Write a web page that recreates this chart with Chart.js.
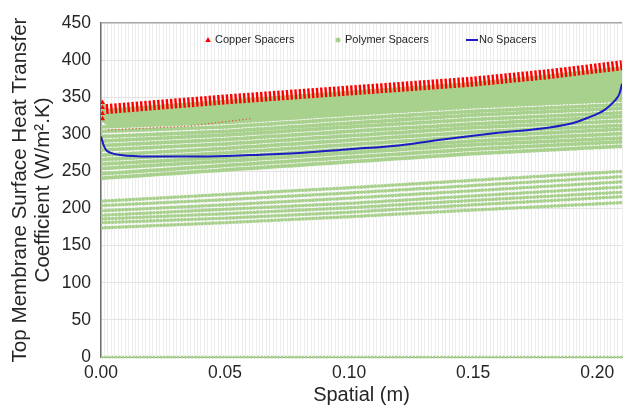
<!DOCTYPE html>
<html>
<head>
<meta charset="utf-8">
<script src="https://cdn.jsdelivr.net/npm/chart.js@4/dist/chart.umd.min.js"></script>
<style>html,body{margin:0;padding:0;background:#fff}canvas{display:block}</style>
</head>
<body>
<canvas id="c" width="626" height="415"></canvas>
<script>
// ---------------- data ----------------
const seriesLabels = ['Copper Spacers', 'Polymer Spacers', 'No Spacers'];
const xTickLabels = ['0.00', '0.05', '0.10', '0.15', '0.20'];
const yTitleLines = ['Top Membrane Surface Heat Transfer', 'Coefficient (W/m\u00B2.K)'];
const xTitle = 'Spatial (m)';

// Copper spacers: centre of the red triangle band
const copperX = [0.002, 0.05, 0.10, 0.15, 0.18, 0.21];
const copperY = [334, 347, 359, 371, 381, 393];
// triangles stacked at the inlet (x = 0)
const copperInletY = [343, 336, 328, 321];
// faint red dotted trace near the inlet
const copperFaintX = [0.003, 0.035, 0.06];
const copperFaintY = [306, 311, 321];

// No spacers (blue line)
const noSpacerX = [0, 0.001, 0.002, 0.004, 0.008, 0.02, 0.04, 0.06, 0.08, 0.10, 0.12, 0.14, 0.16, 0.18, 0.19, 0.196, 0.203, 0.207, 0.209, 0.21];
const noSpacerY = [297, 286, 279, 275, 272, 270, 270, 272, 275, 280, 285, 294, 302, 309, 315, 322, 333, 345, 355, 368];

// Polymer spacers: dense band just under the copper band
const polymerBandX = [0, 0.003, 0.05, 0.10, 0.15, 0.18, 0.21];
const polymerBandTop = [345, 334, 346, 358, 370, 380, 391];
const polymerBandBottom = [318, 312, 317, 327, 337, 342, 346];

// Polymer spacers: individual dotted rows (values at polymerRowX)
const polymerRowX = [0.0005, 0.05, 0.10, 0.15, 0.21];
const polymerUpperRows = [
  [310, 316, 327, 337, 346],
  [304, 310, 321, 331, 340],
  [297, 304, 315, 326, 335],
  [291, 299, 310, 320, 329],
  [285, 293, 304, 314, 324],
  [279, 287, 298, 309, 318],
  [272, 281, 292, 303, 312],
  [266, 275, 286, 297, 307],
  [260, 269, 280, 291, 301],
  [254, 264, 275, 286, 295],
  [247, 258, 269, 280, 290],
  [241, 252, 263, 274, 284]
];
const polymerLowerRows = [
  [210, 219, 228, 238, 250],
  [204, 212, 221, 231, 243],
  [197, 205, 214, 224, 236],
  [191, 199, 207, 217, 229],
  [186, 193, 201, 211, 222],
  [181, 187, 195, 205, 216],
  [174, 181, 189, 198, 208]
];
const polymerZeroRow = [0, 0, 0, 0, 0];

// ---------------- styling ----------------
const RED = '#ff0000';
const GREEN = '#a9d18e';
const BLUE = '#1c1cc4';
const FONT = '"Liberation Sans", Arial, Helvetica, sans-serif';
const TEXT = '#262626';

const pts = (xs, ys) => xs.map((x, i) => ({ x: x, y: ys[i] }));

const dottedRow = (row, size) => ({
  data: pts(polymerRowX, row),
  showLine: true,
  borderColor: GREEN,
  borderWidth: size,
  borderDash: [0.01, 3.45],
  borderCapStyle: 'round',
  pointRadius: 0,
  fill: false
});

const datasets = [];
datasets.push({
  label: seriesLabels[0],
  data: pts(copperX, copperY),
  showLine: true,
  borderColor: RED,
  borderWidth: 10,
  borderDash: [2.4, 1.9],
  borderCapStyle: 'butt',
  pointRadius: 0
});
datasets.push({
  label: seriesLabels[0] + ' inlet',
  data: copperInletY.map(v => ({ x: 0.0006, y: v })),
  showLine: false,
  pointStyle: 'triangle',
  pointRadius: 3,
  backgroundColor: RED,
  borderColor: RED,
  borderWidth: 0
});
datasets.push({
  label: seriesLabels[0] + ' trace',
  data: pts(copperFaintX, copperFaintY),
  showLine: true,
  borderColor: 'rgba(230,60,40,0.8)',
  borderWidth: 1.4,
  borderDash: [0.01, 3.45],
  borderCapStyle: 'round',
  pointRadius: 0
});
datasets.push({
  label: seriesLabels[2],
  data: pts(noSpacerX, noSpacerY),
  showLine: true,
  borderColor: BLUE,
  borderWidth: 2,
  cubicInterpolationMode: 'monotone',
  pointRadius: 0
});
polymerUpperRows.forEach(r => datasets.push(dottedRow(r, 4.2)));
polymerLowerRows.forEach(r => datasets.push(dottedRow(r, 3.7)));
const zeroRow = dottedRow(polymerZeroRow, 3);
zeroRow.clip = false;
datasets.push(zeroRow);
const bandTopIndex = datasets.length;
datasets.push({
  label: seriesLabels[1] + ' top',
  data: pts(polymerBandX, polymerBandTop),
  showLine: true,
  borderColor: GREEN,
  borderWidth: 1,
  pointRadius: 0
});
datasets.push({
  label: seriesLabels[1],
  data: pts(polymerBandX, polymerBandBottom),
  showLine: true,
  borderColor: GREEN,
  borderWidth: 1,
  pointRadius: 0,
  backgroundColor: GREEN,
  fill: bandTopIndex
});

// legend drawn inside the plot area
const legendItems = [
  { label: seriesLabels[0], marker: 'triangle', color: RED, mx: 208, tx: 215 },
  { label: seriesLabels[1], marker: 'circle', color: GREEN, mx: 338, tx: 345 },
  { label: seriesLabels[2], marker: 'line', color: BLUE, mx: 472, tx: 479 }
];
const insideLegend = {
  id: 'insideLegend',
  afterDraw(chart) {
    const ctx = chart.ctx;
    const y = 40;
    ctx.save();
    ctx.font = '11px ' + FONT;
    ctx.textBaseline = 'middle';
    ctx.textAlign = 'left';
    legendItems.forEach(it => {
      ctx.fillStyle = it.color;
      ctx.strokeStyle = it.color;
      if (it.marker === 'triangle') {
        ctx.beginPath();
        ctx.moveTo(it.mx, y - 3);
        ctx.lineTo(it.mx + 2.8, y + 2);
        ctx.lineTo(it.mx - 2.8, y + 2);
        ctx.closePath();
        ctx.fill();
      } else if (it.marker === 'circle') {
        ctx.beginPath();
        ctx.arc(it.mx, y, 2.5, 0, Math.PI * 2);
        ctx.fill();
      } else {
        ctx.lineWidth = 2;
        ctx.beginPath();
        ctx.moveTo(it.mx - 6, y);
        ctx.lineTo(it.mx + 6, y);
        ctx.stroke();
      }
      ctx.fillStyle = TEXT;
      ctx.fillText(it.label, it.tx, y);
    });
    ctx.restore();
  }
};

const X_MAX = 0.21;
const X_MINOR = 0.05 / 36;

new Chart(document.getElementById('c'), {
  type: 'scatter',
  data: { datasets: datasets },
  options: {
    responsive: false,
    animation: false,
    devicePixelRatio: 1,
    layout: { padding: { top: 23, right: 0, bottom: 0, left: 0 } },
    plugins: { legend: { display: false }, tooltip: { enabled: false } },
    scales: {
      x: {
        type: 'linear',
        min: 0,
        max: X_MAX,
        afterFit(scale) { scale.height = 58; scale.paddingRight = 0; },
        border: { display: true, color: '#8c8c8c', width: 1 },
        grid: { color: '#ededed', lineWidth: 1, drawTicks: false },
        ticks: {
          stepSize: X_MINOR,
          autoSkip: false,
          maxRotation: 0,
          minRotation: 0,
          padding: 6,
          color: TEXT,
          font: { family: FONT, size: 17.5 },
          callback: (v, i) => (i % 36 === 0 && xTickLabels[i / 36] !== undefined) ? xTickLabels[i / 36] : ''
        },
        title: {
          display: true,
          text: xTitle,
          color: TEXT,
          font: { family: FONT, size: 20 },
          padding: { top: 0, bottom: 8 }
        }
      },
      y: {
        min: 0,
        max: 450,
        afterFit(scale) { scale.width = 101; },
        border: { display: true, color: '#6e6e6e', width: 1.5 },
        grid: {
          drawTicks: false,
          color: c => c.tick && c.tick.value === 450 ? '#a6a6a6' : '#e3e3e3',
          lineWidth: c => c.tick && c.tick.value === 450 ? 1.5 : 1
        },
        ticks: {
          stepSize: 50,
          padding: 10,
          color: TEXT,
          font: { family: FONT, size: 17.5 }
        },
        title: {
          display: true,
          text: yTitleLines,
          color: TEXT,
          font: { family: FONT, size: 20.6, lineHeight: 1.12 },
          padding: { top: 9, bottom: 0 }
        }
      }
    }
  },
  plugins: [insideLegend]
});
</script>
</body>
</html>
